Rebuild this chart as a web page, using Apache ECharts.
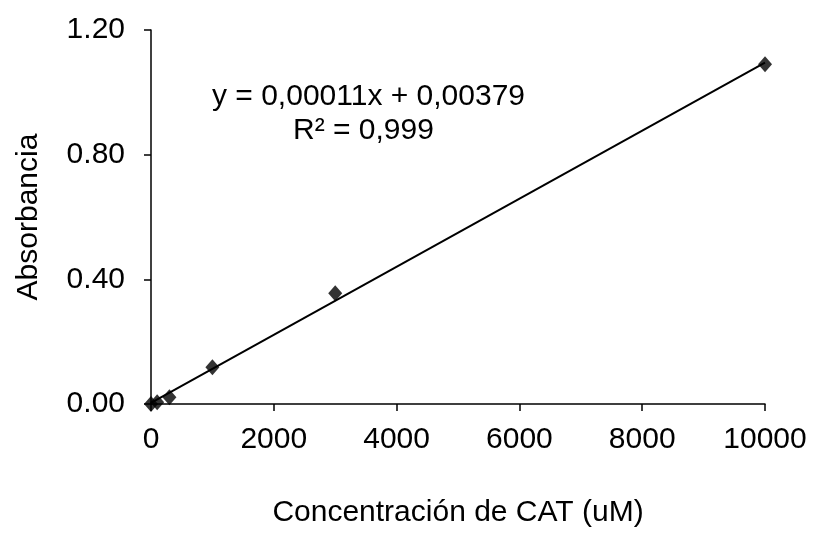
<!DOCTYPE html>
<html>
<head>
<meta charset="utf-8">
<script src="https://cdn.jsdelivr.net/npm/echarts@6/dist/echarts.min.js"></script>
<style>
  html, body { margin: 0; padding: 0; background: #fff; }
  #chart { width: 813px; height: 538px; }
</style>
</head>
<body>
<div id="chart"></div>
<script>
// puntos medidos (concentración uM, absorbancia)
var concentracion = [0, 100, 300, 1000, 3000, 10000];
var absorbancia = [0.0, 0.006, 0.022, 0.118, 0.355, 1.09];
// extremos de la línea de tendencia
var tendenciaX = [0, 10000];
var tendenciaY = [0.004, 1.095];
var ecuacion = 'y = 0,00011x + 0,00379';
var r2 = 'R² = 0,999';

var fuente = '"Liberation Sans", Arial, sans-serif';
var tam = 30;

var puntos = concentracion.map(function (c, i) { return [c, absorbancia[i]]; });
var linea = tendenciaX.map(function (c, i) { return [c, tendenciaY[i]]; });

var chart = echarts.init(document.getElementById('chart'));
chart.setOption({
  animation: false,
  backgroundColor: '#fff',
  grid: { left: 151, right: 48, top: 30, bottom: 134 },
  xAxis: {
    type: 'value',
    min: 0,
    max: 10000,
    interval: 2000,
    name: 'Concentración de CAT (uM)',
    nameLocation: 'middle',
    nameGap: 94,
    nameTextStyle: { fontFamily: fuente, fontSize: tam, color: '#000' },
    axisLine: { lineStyle: { color: '#000', width: 1.5 } },
    axisTick: { inside: false, length: 7, lineStyle: { color: '#000', width: 1.5 } },
    axisLabel: {
      margin: 21, fontFamily: fuente, fontSize: tam, color: '#000',
      formatter: function (v) { return String(v); }
    },
    splitLine: { show: false }
  },
  yAxis: {
    type: 'value',
    min: 0,
    max: 1.2,
    interval: 0.4,
    name: 'Absorbancia',
    nameLocation: 'middle',
    nameGap: 107,
    nameTextStyle: { fontFamily: fuente, fontSize: tam, color: '#000' },
    axisLine: { show: true, lineStyle: { color: '#000', width: 1.5 } },
    axisTick: { show: true, length: 7, lineStyle: { color: '#000', width: 1.5 } },
    axisLabel: {
      margin: 26, fontFamily: fuente, fontSize: tam, color: '#000',
      formatter: function (v) { return v.toFixed(2); }
    },
    splitLine: { show: false }
  },
  graphic: [
    {
      type: 'text', left: 212, top: 82,
      style: { text: ecuacion, font: tam + 'px ' + fuente, fill: '#000' }
    },
    {
      type: 'text', left: 293, top: 116,
      style: { text: r2, font: tam + 'px ' + fuente, fill: '#000' }
    }
  ],
  series: [
    {
      type: 'line',
      data: linea,
      symbol: 'none',
      lineStyle: { color: '#000', width: 2 },
      z: 2
    },
    {
      type: 'scatter',
      data: puntos,
      symbol: 'diamond',
      symbolSize: [14, 16],
      itemStyle: { color: '#000' },
      z: 3
    }
  ]
});
</script>
</body>
</html>
